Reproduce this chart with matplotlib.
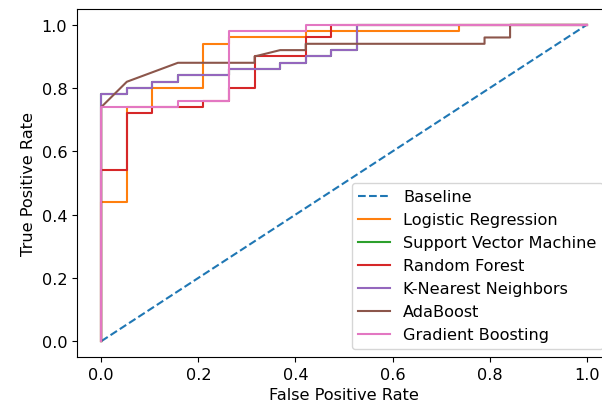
import matplotlib
matplotlib.use("Agg")
import matplotlib.pyplot as plt

# ROC curves (19 negatives, 50 positives)
baseline_fpr = [0.0, 1.0]
baseline_tpr = [0.0, 1.0]

lr_fpr = [0.0, 0.0, 0.0526, 0.0526, 0.1053, 0.1053, 0.2105, 0.2105, 0.2632, 0.2632,
          0.4211, 0.4211, 0.7368, 0.7368, 1.0]
lr_tpr = [0.0, 0.44, 0.44, 0.74, 0.74, 0.80, 0.80, 0.94, 0.94, 0.96,
          0.96, 0.98, 0.98, 1.0, 1.0]

knn_fpr = [0.0, 0.0, 0.0526, 0.0526, 0.1053, 0.1053, 0.1579, 0.1579, 0.2632, 0.2632,
           0.3684, 0.3684, 0.4211, 0.4211, 0.4737, 0.4737, 0.5263, 0.5263, 1.0]
knn_tpr = [0.0, 0.78, 0.78, 0.80, 0.80, 0.82, 0.82, 0.84, 0.84, 0.86,
           0.86, 0.88, 0.88, 0.90, 0.90, 0.92, 0.92, 1.0, 1.0]

# SVM curve is fully hidden under the KNN curve in the reference
svm_fpr = list(knn_fpr)
svm_tpr = list(knn_tpr)

rf_fpr = [0.0, 0.0, 0.0526, 0.0526, 0.1053, 0.1053, 0.2105, 0.2105, 0.2632, 0.2632,
          0.3158, 0.3158, 0.4211, 0.4211, 0.4737, 0.4737, 1.0]
rf_tpr = [0.0, 0.54, 0.54, 0.72, 0.72, 0.74, 0.74, 0.76, 0.76, 0.80,
          0.80, 0.90, 0.90, 0.96, 0.96, 1.0, 1.0]

ada_fpr = [0.0, 0.0, 0.0526, 0.1579, 0.3158, 0.3158, 0.3684, 0.4211, 0.4211,
           0.7895, 0.7895, 0.8421, 0.8421, 1.0]
ada_tpr = [0.0, 0.74, 0.82, 0.88, 0.88, 0.90, 0.92, 0.92, 0.94,
           0.94, 0.96, 0.96, 1.0, 1.0]

gb_fpr = [0.0, 0.0, 0.1579, 0.1579, 0.2632, 0.2632, 0.4211, 0.4211, 1.0]
gb_tpr = [0.0, 0.74, 0.74, 0.76, 0.76, 0.98, 0.98, 1.0, 1.0]

models = ["Logistic Regression", "Support Vector Machine", "Random Forest",
          "K-Nearest Neighbors", "AdaBoost", "Gradient Boosting"]
curves = [(lr_fpr, lr_tpr), (svm_fpr, svm_tpr), (rf_fpr, rf_tpr),
          (knn_fpr, knn_tpr), (ada_fpr, ada_tpr), (gb_fpr, gb_tpr)]

plt.rcParams["font.size"] = 11.6
plt.rcParams["lines.linewidth"] = 1.5

fig = plt.figure(figsize=(6.02, 4.10), dpi=100)
# right edge of the axes runs past the picture, as in the cropped reference
ax = fig.add_axes([77 / 602, 52 / 410, 534 / 602, 348 / 410])

ax.plot(baseline_fpr, baseline_tpr, linestyle="--", label="Baseline")
for name, (fpr, tpr) in zip(models, curves):
    ax.plot(fpr, tpr, label=name)

ax.set_xlabel("False Positive Rate")
ax.set_ylabel("True Positive Rate")
ax.legend(loc="lower right")

fig.savefig("out.png", dpi=100)
